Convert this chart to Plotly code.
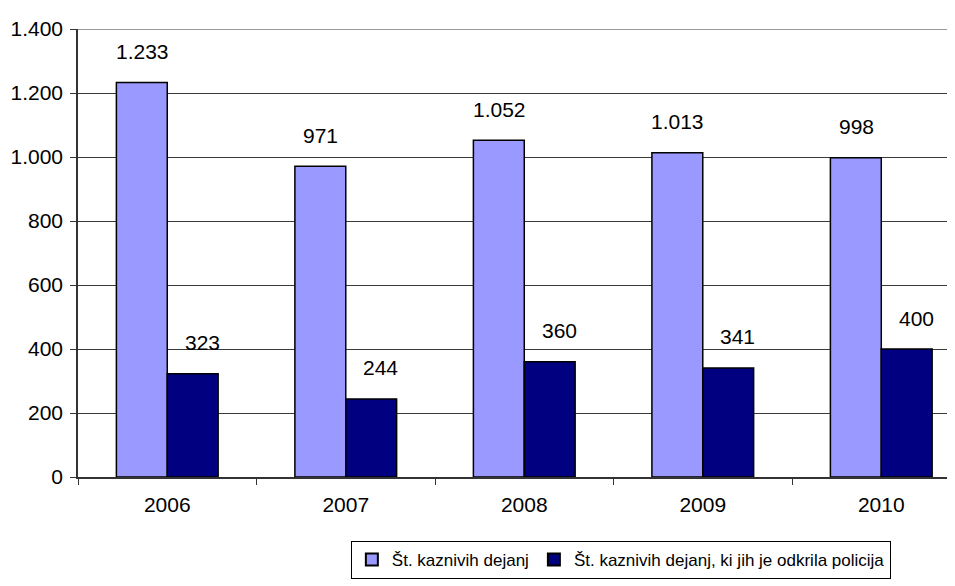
import plotly.graph_objects as go

years = ["2006", "2007", "2008", "2009", "2010"]
all_offences = [1233, 971, 1052, 1013, 998]
police_found = [323, 244, 360, 341, 400]
series_names = [
    "Št. kaznivih dejanj",
    "Št. kaznivih dejanj, ki jih je odkrila policija",
]


def fmt(v):
    return f"{v:,}".replace(",", ".")


font = dict(family="Liberation Sans, Arial, sans-serif", size=21, color="black")

fig = go.Figure()
fig.add_trace(go.Bar(
    x=years, y=all_offences, name=series_names[0],
    marker=dict(color="#9999FF", line=dict(color="black", width=1.5)),
))
fig.add_trace(go.Bar(
    x=years, y=police_found, name=series_names[1],
    marker=dict(color="#000080", line=dict(color="black", width=1.5)),
))

# data labels sit well above each bar, as in the original
for i, (a, b) in enumerate(zip(all_offences, police_found)):
    fig.add_annotation(x=i, y=a, text=fmt(a), showarrow=False, xshift=-25,
                       yshift=31, font=font)
    fig.add_annotation(x=i, y=b, text=fmt(b), showarrow=False, xshift=35,
                       yshift=31, font=font)

fig.add_shape(type="line", xref="paper", yref="y", x0=0, x1=1, y0=1400, y1=1400,
              line=dict(color="#999999", width=2))

# the page body adds an 8px margin, so the figure is 8px smaller each way
fig.update_layout(
    width=947, height=578,
    margin=dict(l=70, r=0, t=21, b=109),
    plot_bgcolor="white", paper_bgcolor="white",
    font=font,
    separators=",.",
    barmode="group", bargap=0.43, bargroupgap=0,
    showlegend=True,
    legend=dict(orientation="h", x=0.619, xanchor="center", y=-0.143, yanchor="top",
                bordercolor="black", borderwidth=1,
                font=dict(family=font["family"], size=17, color="black"),
                itemsizing="constant", tracegroupgap=0),
)
fig.update_xaxes(
    type="category", range=[-0.5, 4.413],
    showline=True, linecolor="#333333", linewidth=1.5,
    ticks="outside", tickson="boundaries", ticklen=6, tickcolor="#333333",
    ticklabelstandoff=8,
    showgrid=False,
)
fig.update_yaxes(
    range=[0, 1400], dtick=200, tickformat=",",
    showline=True, linecolor="#333333", linewidth=1.5,
    ticks="outside", ticklen=6, tickcolor="#333333",
    ticklabelstandoff=3,
    showgrid=True, gridcolor="#3a3a3a", gridwidth=1, zeroline=False,
)

fig.write_html("out.html")
